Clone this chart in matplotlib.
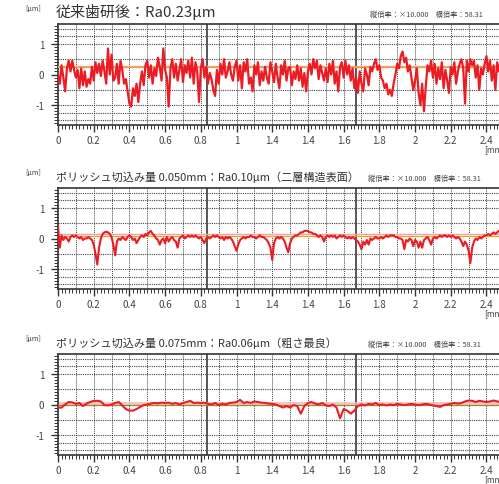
import numpy as np
import matplotlib
matplotlib.use("Agg")
import matplotlib.pyplot as plt
from matplotlib.ticker import MultipleLocator, FixedLocator

plt.rcParams['font.family'] = ['Noto Sans CJK JP', 'DejaVu Sans']

# surface profiles [um]
profile_conv = [
    0.0, -0.3, 0.3, -0.1, -0.55, 0.2, 0.45, 0.1, 0.45, 0.15,
    -0.1, 0.15, -0.45, 0.2, -0.35, 0.1, -0.4, -0.15, -0.3, 0.25,
    -0.2, 0.4, 0.05, 0.35, -0.05, 0.45, 0.1, -0.3, 0.85, 0.0,
    0.65, -0.2, -0.1, 0.35, -0.3, 0.45, 0.15, -0.3, -0.15, -0.55,
    -0.95, -1.05, -0.45, -0.7, -0.3, -0.9, -0.3, 0.1, -0.35, 0.3,
    0.45, -0.1, 0.3, -0.3, 0.2, -0.05, 0.55, 0.25, -0.2, 0.85,
    0.15, -0.1, -1.05, 0.2, 0.5, -0.1, 0.35, -0.2, 0.15, 0.5,
    -0.25, 0.3, 0.05, 0.45, -0.1, 0.55, -0.3, 0.4, 0.1, -0.9,
    0.2, 0.5, -0.1, 0.25, -0.3, 0.05, -0.15, -0.5, -0.7, 0.15,
    -0.3, 0.35, 0.0, 0.5, -0.1, 0.1, 0.4, 0.0, -0.2, 0.25,
    0.45, -0.2, 0.3, -0.45, 0.4, 0.1, 0.5, -0.3, -0.1, -0.55,
    0.3, 0.0, 0.4, -0.35, 0.1, -0.2, 0.25, -0.1, -0.3, 0.4,
    0.1, -0.25, 0.35, -0.1, -0.45, 0.3, 0.0, 0.45, -0.2, 0.2,
    0.25, -0.35, 0.1, -0.15, 0.3, -0.2, 0.2, -0.4, 0.05, -0.55,
    0.1, 0.35, 0.0, 0.5, 0.2, 0.45, -0.15, 0.3, 0.05, -0.2,
    0.2, -0.25, 0.35, 0.0, 0.45, -0.3, 0.1, -0.55, 0.25, 0.4,
    -0.1, 0.45, 0.0, 0.3, -0.2, 0.2, -0.45, -0.1, -0.6, 0.1,
    -0.3, -0.55, 0.2, 0.0, -0.35, 0.25, 0.1, 0.35, 0.5, 0.15,
    0.3, -0.1, -0.2, -0.45, -0.3, -0.65, -0.5, -0.7, -0.3, 0.0,
    0.35, 0.2, 0.6, 0.75, 0.4, 0.55, 0.1, 0.3, -0.1, -0.5,
    -0.2, 0.2, -0.6, -1.0, -0.3, -1.2, -0.4, 0.3, 0.1, 0.45,
    -0.1, 0.35, -0.3, 0.2, -0.15, 0.4, -0.45, 0.15, -0.2, -0.6,
    0.25, 0.0, 0.4, -0.3, 0.1, 0.35, 0.5, 0.2, -0.95, 0.45,
    0.1, 0.5, 0.3, 0.45, -0.1, 0.3, -0.5, 0.2, 0.0, 0.35,
    0.6, 0.1, 0.45, -0.2, 0.3, -0.5, 0.4, 0.1, 0.5, 0.2, 0.3,
]

profile_050 = [
    0.4, -0.3, 0.1, -0.05, 0.05, 0.0, -0.1, 0.05, 0.1, 0.05,
    0.1, 0.05, 0.0, 0.05, -0.05, 0.0, 0.0, 0.05, 0.0, -0.05,
    -0.2, -0.5, -0.85, -0.3, 0.0, 0.15, 0.2, 0.22, 0.2, 0.15,
    0.05, -0.2, -0.55, -0.1, 0.0, -0.05, 0.05, 0.0, -0.05, 0.05,
    0.1, 0.05, -0.05, 0.0, -0.15, -0.05, 0.05, 0.1, 0.05, 0.15,
    0.1, 0.2, 0.25, 0.15, 0.1, 0.0, -0.05, -0.2, -0.05, 0.0,
    -0.15, 0.05, -0.1, 0.0, 0.05, -0.05, -0.1, -0.3, 0.0, 0.05,
    0.1, 0.0, 0.05, 0.1, 0.05, 0.1, 0.05, 0.1, 0.05, 0.0,
    0.05, -0.05, -0.15, 0.0, 0.05, 0.0, 0.05, 0.1, 0.05, 0.1,
    0.05, 0.0, 0.05, -0.05, 0.05, 0.0, 0.05, 0.0, -0.1, -0.25,
    -0.4, -0.2, -0.05, 0.0, 0.05, 0.0, 0.05, 0.05, 0.1, 0.05,
    0.05, 0.0, 0.05, 0.1, 0.05, 0.05, 0.0, -0.05, -0.15, -0.3,
    -0.7, -0.15, 0.0, 0.05, 0.0, 0.05, 0.0, -0.1, -0.3, -0.45,
    -0.15, 0.0, 0.05, 0.1, 0.1, 0.15, 0.2, 0.2, 0.25, 0.25,
    0.25, 0.2, 0.2, 0.15, 0.15, 0.1, 0.05, 0.1, 0.05, -0.1,
    0.05, 0.1, 0.05, 0.1, 0.05, 0.1, 0.0, 0.05, 0.1, 0.05,
    0.1, 0.05, 0.0, 0.05, 0.0, 0.05, 0.0, -0.05, -0.1, -0.2,
    -0.35, -0.1, -0.2, -0.05, -0.2, 0.0, -0.05, 0.0, 0.05, 0.0,
    0.0, 0.05, 0.0, 0.05, 0.1, 0.05, 0.1, 0.1, 0.1, 0.05,
    0.05, 0.0, 0.0, -0.05, -0.35, -0.05, -0.1, 0.0, -0.05, -0.25,
    -0.05, -0.1, -0.3, -0.1, -0.3, -0.05, 0.0, 0.05, -0.05, -0.2,
    0.0, 0.05, 0.0, 0.05, 0.1, 0.05, 0.1, 0.1, 0.05, 0.1,
    0.05, 0.1, 0.05, 0.0, 0.05, 0.0, -0.1, -0.25, -0.1, -0.2,
    -0.4, -0.8, -0.3, -0.1, 0.0, -0.05, 0.05, 0.0, 0.05, 0.1,
    0.1, 0.15, 0.1, 0.15, 0.2, 0.15, 0.2, 0.25, 0.25, 0.25, 0.25,
]

profile_075 = [
    -0.1, -0.1, 0.0, 0.08, 0.07, 0.02, 0.05, -0.05, 0.03, 0.08,
    0.12, 0.12, 0.1, -0.02, -0.03, 0.0, 0.05, 0.08, -0.03, -0.15,
    -0.2, -0.2, -0.15, -0.08, -0.02, 0.0, 0.03, 0.05, 0.04, 0.06,
    0.05, 0.06, 0.02, 0.05, 0.0, 0.05, 0.08, 0.12, 0.05, 0.06,
    0.05, 0.06, 0.02, 0.0, 0.05, -0.02, 0.03, 0.0, 0.05, 0.06,
    0.08, 0.15, 0.05, 0.08, 0.05, 0.1, 0.08, 0.06, 0.05, 0.03,
    0.02, 0.0, -0.05, -0.1, -0.05, -0.1, -0.02, -0.05, -0.3, -0.05,
    0.05, 0.08, 0.03, 0.0, 0.05, -0.03, -0.05, 0.0, -0.1, -0.45,
    -0.15, -0.2, -0.3, -0.2, -0.05, 0.0, -0.03, 0.02, 0.0, 0.05,
    -0.02, 0.0, -0.03, 0.0, -0.02, 0.02, 0.0, -0.02, 0.0, 0.02,
    0.0, -0.02, 0.0, 0.02, 0.0, -0.03, -0.05, -0.08, -0.02, 0.0,
    0.02, 0.05, 0.03, 0.05, 0.1, 0.13, 0.12, 0.08, 0.12, 0.1,
    0.08, 0.1, 0.13, 0.1, 0.08, 0.05,
]

titles = [
    "従来歯研後：Ra0.23μm",
    "ポリッシュ切込み量 0.050mm：Ra0.10μm（二層構造表面）",
    "ポリッシュ切込み量 0.075mm：Ra0.06μm（粗さ最良）",
]
ra_values = [0.23, 0.10, 0.06]
scale_note = "縦倍率：×10.000　横倍率：58.31"
x_tick_pos = [0, 0.2, 0.4, 0.6, 0.8, 1.0, 1.2, 1.4, 1.6, 1.8, 2.0, 2.2, 2.4]
x_tick_lab = ["0", "0.2", "0.4", "0.6", "0.8", "1", "1.4", "1.4", "1.6", "1.8", "2", "2.2", "2.4"]
y_tick_pos = [-1, 0, 1]
y_tick_lab = ["-1", "0", "1"]
sections = [2.5 / 3, 5.0 / 3]

W, H = 499, 485
fig = plt.figure(figsize=(W / 100, H / 100), dpi=100)


def fx(px):
    return px / W


def fy(py):
    return 1 - py / H


profiles = [profile_conv, profile_050, profile_075]
tops = [25, 189, 355]
title_sizes = [10.8, 8.0, 8.0]
red = '#ec1c24'
grid_c = '#444444'

for i, prof in enumerate(profiles):
    top = tops[i]
    ax = fig.add_axes([fx(58), fy(top + 101), fx(504.3 - 58), 101 / H])
    x = np.linspace(0, 2.5, len(prof))
    ax.set_xlim(0, 2.5)
    ax.set_ylim(-1.65, 1.65)

    # grid
    for gx in np.arange(0.1, 2.5, 0.1):
        ax.axvline(gx, color=grid_c, lw=0.7, ls=(0, (1, 1)), zorder=1)
    for gy in [-1.5, -1.25, -1, -0.5, 0.5, 1, 1.25, 1.5]:
        ax.axhline(gy, color=grid_c, lw=0.8, ls=(0, (1, 1)), zorder=1)
    for sx in sections:
        ax.axvline(sx, color='#555555', lw=1.4, zorder=2)

    # mean / Ra lines
    if i == 2:
        ax.axhspan(0, 0.07, color='#f6b8bb', alpha=0.8, lw=0, zorder=2)
        ax.axhline(0, color='#9a8a20', lw=0.9, zorder=3)
    else:
        ax.axhline(ra_values[i] + 0.04, color='#f4a0a4', lw=1.0, zorder=3)
        ax.axhline(ra_values[i] * 0.9 if i == 1 else 0.25, color='#f0a020', lw=0.9, zorder=3)

    ax.plot(x, prof, color=red, lw=1.6 if i == 0 else 1.5, zorder=4)

    for s in ax.spines.values():
        s.set_color('#333333')
        s.set_linewidth(1.2)
    ax.xaxis.set_major_locator(FixedLocator(x_tick_pos))
    ax.set_xticklabels(x_tick_lab)
    ax.xaxis.set_minor_locator(MultipleLocator(0.02))
    ax.yaxis.set_major_locator(FixedLocator(y_tick_pos))
    ax.set_yticklabels(y_tick_lab)
    ax.yaxis.set_minor_locator(MultipleLocator(0.1))
    ax.tick_params(axis='both', which='major', labelsize=7, labelcolor='#444444',
                   color='#333333', length=5, width=1.0, direction='out')
    ax.tick_params(axis='both', which='minor', color='#333333', length=3,
                   width=0.7, direction='out')
    ax.tick_params(axis='x', pad=2)
    ax.tick_params(axis='y', pad=5)

    fig.text(fx(25), fy(top - 16), "[μm]", fontsize=5.2, color='#444444', va='center')
    fig.text(fx(56), fy(top - 13 if i == 0 else top - 12), titles[i], fontsize=title_sizes[i],
             color='#333333', va='center')
    fig.text(fx(370 if i == 0 else 368), fy(top - 10), scale_note, fontsize=5.2,
             color='#444444', va='center')
    fig.text(fx(484), fy(top + 125), "[mm]", fontsize=6, color='#444444', va='center')

fig.savefig("out.png", dpi=100)
